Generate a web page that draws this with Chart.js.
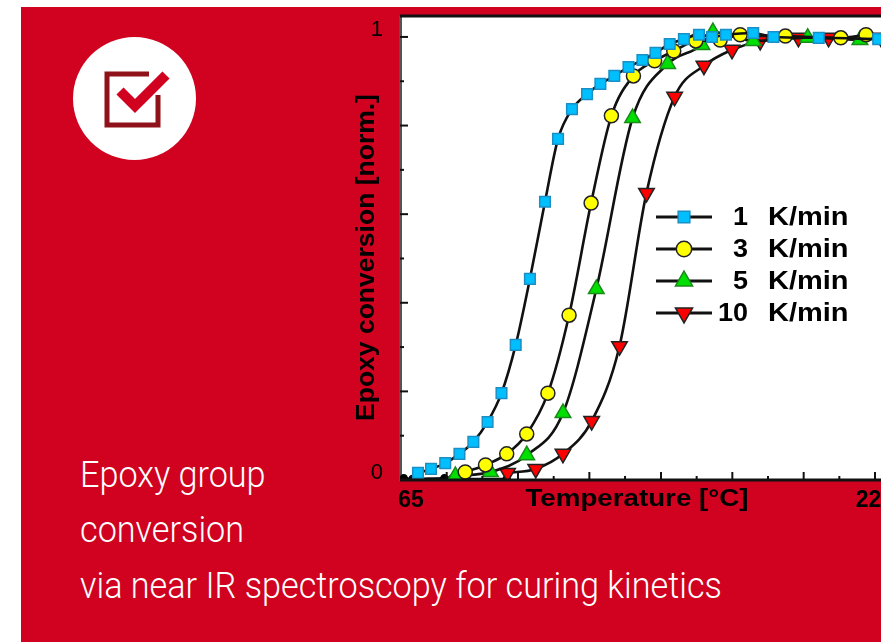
<!DOCTYPE html>
<html>
<head>
<meta charset="utf-8">
<script src="https://cdn.jsdelivr.net/npm/chart.js@4"></script>
<style>
html, body { margin: 0; padding: 0; width: 881px; height: 642px; overflow: hidden; background: #fff; }
#panel { position: absolute; left: 21px; top: 7px; width: 860px; height: 635px; background: #d0021f; }
#myChart { position: absolute; left: 0; top: 0; }
#badge { position: absolute; left: 73px; top: 37px; }
.caption { position: absolute; left: 80px; color: #fff; font: 300 36px Roboto, sans-serif; white-space: nowrap; transform-origin: 0 0; transform: scaleX(0.95); }
</style>
</head>
<body>
<div id="panel"></div>
<svg id="badge" width="123" height="123" viewBox="0 0 123 123">
    <circle cx="61.5" cy="61.5" r="61.5" fill="#fff"/>
    <path d="M76 37 H34 V88 H85 V58" fill="none" stroke="#8f1119" stroke-width="5"/>
    <path d="M47 54 L62 69 L93 38" fill="none" stroke="#d0021f" stroke-width="10"/>
</svg>
<div class="caption" style="top:454px">Epoxy group</div>
<div class="caption" style="top:509px">conversion</div>
<div class="caption" style="top:565px">via near IR spectroscopy for curing kinetics</div>
<canvas id="myChart" width="958" height="642"></canvas>
<script>
var temp_1 = [67.4, 71.9, 76.8, 81.7, 86.5, 91.4, 96.2, 101.1, 106, 111.2, 115.7, 120.5, 125.7, 130.3, 135.1, 140, 144.8, 149.3, 154.2, 159.1, 164.3, 168.8, 173.6, 183, 190, 205.6, 226.1];
var conv_1 = [0.016, 0.025, 0.038, 0.059, 0.086, 0.131, 0.196, 0.305, 0.454, 0.628, 0.770, 0.837, 0.871, 0.894, 0.912, 0.932, 0.948, 0.964, 0.984, 0.995, 1.005, 1.0, 1.005, 1.009, 1.0, 0.998, 0.995];
var temp_3 = [83.7, 90.7, 98, 104.9, 112.2, 119.5, 127.1, 134.1, 141.7, 149, 155.6, 163.2, 171.6, 178.5, 194.1, 213.2, 221.9];
var conv_3 = [0.018, 0.034, 0.059, 0.104, 0.196, 0.372, 0.625, 0.822, 0.912, 0.946, 0.968, 0.991, 0.993, 1.005, 1.002, 0.998, 1.005];
var temp_5 = [80.3, 92.4, 104.9, 117.4, 128.9, 141.4, 153.5, 165.3, 169.1, 183, 201.8, 219.8];
var conv_5 = [0.009, 0.018, 0.056, 0.151, 0.431, 0.817, 0.939, 0.982, 1.011, 0.991, 0.998, 0.993];
var temp_10 = [98.3, 108, 117.4, 127.3, 136.9, 146.2, 155.9, 166, 175.7, 185.4, 198.6, 209, 227.1];
var conv_10 = [0.016, 0.025, 0.059, 0.133, 0.302, 0.648, 0.865, 0.935, 0.971, 0.991, 0.998, 0.998, 0.998];
var temp_base = [62.5, 65.5, 76.5, 79, 98];
var conv_base = [0.004, 0.002, 0.004, 0.002, 0.002];
var rates = ["1", "3", "5", "10"];
var xTicks = [65, 77.3, 89.6, 101.9, 114.2, 126.5, 138.8, 151.2, 163.5, 175.8, 188.1, 200.4, 212.7, 225, 237.3];
var yTicks = [0, 0.1, 0.2, 0.3, 0.4, 0.5, 0.6, 0.7, 0.8, 0.9, 1];
var xLabels = { 65: "65", 225: "225" };
var yLabels = { 0: "0", 1: "1" };

function toPoints(xs, ys) {
    return xs.map((x, i) => ({ x: x, y: ys[i] }));
}

function makeSet(rate, xs, ys, style, radius, fill, border, rotation) {
    return {
        label: rate + " K/min",
        data: toPoints(xs, ys),
        borderColor: "#111",
        borderWidth: 2.6,
        cubicInterpolationMode: "monotone",
        pointStyle: style,
        pointRadius: radius,
        pointRotation: rotation,
        pointBackgroundColor: fill,
        pointBorderColor: border,
        pointBorderWidth: 1.5
    };
}

// white plot background, drawn before the scales
const plotBack = {
    id: "plotBack",
    beforeDraw(chart) {
        let a = chart.chartArea, ctx = chart.ctx;
        ctx.save();
        ctx.fillStyle = "#fff";
        ctx.fillRect(a.left, a.top, a.right - a.left, a.bottom - a.top);
        ctx.restore();
    }
};

// frame, inward ticks, stretched axis titles and the legend inside the plot
const plotExtras = {
    id: "plotExtras",
    afterDraw(chart) {
        let a = chart.chartArea, ctx = chart.ctx;
        ctx.save();
        ctx.strokeStyle = "#111";
        ctx.lineWidth = 2;
        xTicks.forEach((t, i) => {
            let px = chart.scales.x.getPixelForValue(t);
            ctx.beginPath();
            ctx.moveTo(px, a.bottom);
            ctx.lineTo(px, a.bottom - (i % 2 == 1 ? 8 : 4));
            ctx.stroke();
        });
        yTicks.forEach((t, i) => {
            let py = chart.scales.y.getPixelForValue(t);
            ctx.beginPath();
            ctx.moveTo(a.left, py);
            ctx.lineTo(a.left + (i % 2 == 0 ? 8 : 4), py);
            ctx.stroke();
        });
        ctx.lineWidth = 3;
        ctx.beginPath();
        ctx.moveTo(a.left, a.top - 1);
        ctx.lineTo(a.right, a.top - 1);
        ctx.stroke();
        ctx.beginPath();
        ctx.moveTo(a.left, a.bottom);
        ctx.lineTo(a.right, a.bottom);
        ctx.stroke();

        ctx.fillStyle = "#000";
        ctx.font = "bold 24px 'Liberation Sans'";
        ctx.textAlign = "center";
        ctx.textBaseline = "middle";
        ctx.save();
        ctx.translate(637, 499);
        ctx.scale(1.155, 1);
        ctx.fillText("Temperature [°C]", 0, 0);
        ctx.restore();
        ctx.save();
        ctx.translate(367, 257.5);
        ctx.rotate(-Math.PI / 2);
        ctx.font = "bold 26.5px 'Liberation Sans'";
        ctx.fillText("Epoxy conversion [norm.]", 0, 0);
        ctx.restore();

        chart.data.datasets.slice(0, 4).forEach((ds, i) => {
            let y = 217 + i * 32;
            ctx.strokeStyle = "#111";
            ctx.lineWidth = 3;
            ctx.beginPath();
            ctx.moveTo(656, y);
            ctx.lineTo(712, y);
            ctx.stroke();
            ctx.fillStyle = ds.pointBackgroundColor;
            ctx.strokeStyle = ds.pointBorderColor;
            ctx.lineWidth = ds.pointBorderWidth;
            Chart.helpers.drawPoint(ctx, { pointStyle: ds.pointStyle, radius: ds.pointRadius * 1.1, rotation: ds.pointRotation, borderWidth: ds.pointBorderWidth }, 684, y);
            ctx.fillStyle = "#000";
            ctx.font = "bold 25px 'Liberation Sans'";
            ctx.textBaseline = "middle";
            ctx.save();
            ctx.translate(748, y + 1);
            ctx.scale(1.08, 1);
            ctx.textAlign = "right";
            ctx.fillText(rates[i], 0, 0);
            ctx.restore();
            ctx.save();
            ctx.translate(768, y + 1);
            ctx.scale(1.16, 1);
            ctx.textAlign = "left";
            ctx.fillText("K/min", 0, 0);
            ctx.restore();
        });
        ctx.restore();
    }
};

new Chart("myChart", {
    type: "line",
    data: {
        datasets: [
            makeSet("1", temp_1, conv_1, "rect", 7.5, "#00bfff", "#1b8fc4", 0),
            makeSet("3", temp_3, conv_3, "circle", 7, "#ffff00", "#222", 0),
            makeSet("5", temp_5, conv_5, "triangle", 9, "#00e000", "#1a8a1a", 0),
            makeSet("10", temp_10, conv_10, "triangle", 9, "#ff0000", "#222", 180),
            makeSet("0", temp_base, conv_base, "circle", 3.5, "#000", "#000", 0)
        ]
    },
    plugins: [plotBack, plotExtras],
    options: {
        responsive: false,
        animation: false,
        devicePixelRatio: 1,
        layout: { padding: { top: 17 } },
        plugins: { legend: { display: false }, tooltip: { enabled: false } },
        scales: {
            x: {
                type: "linear",
                min: 61.2,
                max: 250,
                afterBuildTicks: scale => { scale.ticks = xTicks.map(v => ({ value: v })); },
                afterFit: scale => { scale.height = 162; scale.paddingLeft = 0; scale.paddingRight = 0; },
                grid: { display: false, drawTicks: false },
                border: { display: false },
                ticks: {
                    autoSkip: false,
                    maxRotation: 0,
                    padding: 7,
                    color: "#000",
                    font: { family: "'Liberation Sans'", weight: "bold", size: 23 },
                    callback: v => xLabels[v] || ""
                }
            },
            y: {
                min: 0,
                max: 1.045,
                afterBuildTicks: scale => { scale.ticks = yTicks.map(v => ({ value: v })); },
                afterFit: scale => { scale.width = 400; scale.paddingTop = 0; scale.paddingBottom = 0; },
                grid: { display: false, drawTicks: false },
                border: { display: true, color: "#555", width: 3 },
                ticks: {
                    autoSkip: false,
                    padding: 17,
                    labelOffset: -7,
                    color: "#000",
                    font: { family: "'Liberation Sans'", size: 22 },
                    callback: v => yLabels[v] || ""
                }
            }
        }
    }
});
</script>
</body>
</html>
